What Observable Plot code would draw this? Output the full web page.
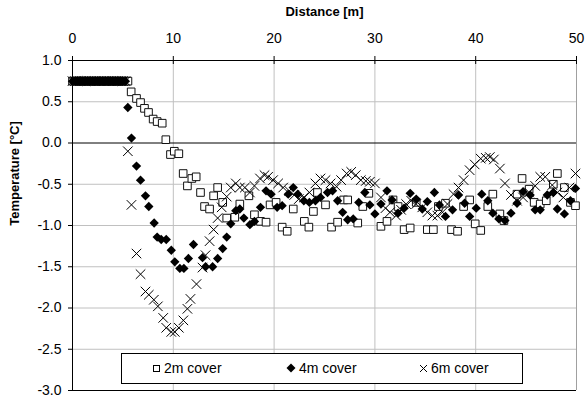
<!DOCTYPE html>
<html>
<head>
<meta charset="utf-8">
<script src="https://cdn.jsdelivr.net/npm/d3@7"></script>
<script src="https://cdn.jsdelivr.net/npm/@observablehq/plot@0.6"></script>
<style>
  html, body { margin: 0; padding: 0; background: #fff; }
  #wrap { position: relative; width: 586px; height: 397px; font-family: "Liberation Sans", Arial, sans-serif; }
  #legend { position: absolute; left: 121px; top: 353px; width: 400px; height: 29px; border: 1px solid #000; background: #fff; font-size: 14px; color: #000; }
  .li { position: absolute; top: 6px; display: flex; align-items: center; white-space: nowrap; }
  .li svg { margin-right: 3px; }
</style>
</head>
<body>
<div id="wrap"></div>
<script>
// ---- data ----
const xTicks = [0, 10, 20, 30, 40, 50];
const yTicks = [-3.0, -2.5, -2.0, -1.5, -1.0, -0.5, 0.0, 0.5, 1.0];
const seriesNames = ["2m cover", "4m cover", "6m cover"];

const dist2m = [0,0.25,0.5,0.75,1,1.25,1.5,1.75,2,2.25,2.5,2.75,3,3.25,3.5,3.75,4,4.25,4.5,4.75,5,5.25,5.5,
  5.82,6.35,6.75,7.14,7.54,8.0,8.4,8.9,9.26,9.72,10.1,10.55,10.98,11.4,11.84,12.27,12.7,13.1,13.6,14.0,14.4,14.9,15.3,16.1,16.6,17.5,18.05,18.65,19.2,19.6,20.2,20.8,21.3,21.9,23.0,23.45,23.9,24.3,25.1,25.7,26.3,26.9,27.3,28.3,28.8,29.4,30.6,31.2,31.8,32.3,32.9,33.5,34.1,35.2,35.8,36.3,37.0,37.6,38.2,38.8,39.4,39.95,40.5,41.2,41.7,42.4,42.8,44.1,44.6,45.3,45.8,46.4,47.0,47.7,48.1,48.8,49.4,49.9];
const temp2m = [0.75,0.75,0.75,0.75,0.75,0.75,0.75,0.75,0.75,0.75,0.75,0.75,0.75,0.75,0.75,0.75,0.75,0.75,0.75,0.75,0.75,0.75,0.75,
  0.62,0.54,0.49,0.42,0.37,0.29,0.26,0.24,0.04,-0.14,-0.10,-0.13,-0.37,-0.52,-0.43,-0.41,-0.60,-0.77,-0.80,-0.64,-0.54,-0.72,-0.91,-0.90,-0.74,-0.64,-0.87,-0.95,-0.96,-0.75,-0.72,-1.02,-1.07,-0.80,-0.95,-1.02,-0.83,-0.60,-0.75,-1.02,-0.96,-0.69,-0.69,-0.97,-0.77,-0.61,-1.01,-0.95,-0.69,-0.77,-1.05,-1.03,-0.72,-1.05,-1.05,-0.77,-0.73,-1.05,-1.07,-0.77,-0.69,-0.98,-1.06,-0.77,-0.62,-0.86,-0.94,-0.62,-0.43,-0.56,-0.72,-0.74,-0.70,-0.50,-0.37,-0.54,-0.72,-0.76];

const dist4m = [0,0.25,0.5,0.75,1,1.25,1.5,1.75,2,2.25,2.5,2.75,3,3.25,3.5,3.75,4,4.25,4.5,4.75,5,5.25,
  5.49,5.85,6.35,6.75,7.24,7.57,8.1,8.4,8.8,9.3,9.8,10.15,10.65,11.05,11.5,12.0,12.9,13.2,13.9,14.4,14.9,15.3,15.7,16.2,16.6,17.0,17.6,18.05,18.65,19.2,19.7,20.3,20.8,21.4,21.9,22.35,22.95,23.5,24.1,24.6,25.3,25.8,26.3,26.8,27.3,27.85,28.4,29.0,29.5,30.0,30.6,31.2,31.7,32.3,32.9,33.5,34.1,34.7,35.2,35.9,36.4,37.0,37.7,38.3,38.9,39.4,40.05,40.6,41.2,41.7,42.3,42.9,43.5,44.1,44.7,45.4,45.9,46.4,47.1,47.7,48.1,48.8,49.4,49.9];
const temp4m = [0.75,0.75,0.75,0.75,0.75,0.75,0.75,0.75,0.75,0.75,0.75,0.75,0.75,0.75,0.75,0.75,0.75,0.75,0.75,0.75,0.75,0.75,
  0.43,0.06,-0.28,-0.45,-0.64,-0.77,-0.97,-1.14,-1.17,-1.17,-1.30,-1.44,-1.52,-1.52,-1.40,-1.23,-1.39,-1.50,-1.50,-1.40,-1.28,-1.14,-0.98,-0.82,-0.80,-0.91,-0.99,-0.95,-0.78,-0.58,-0.62,-0.78,-0.76,-0.62,-0.54,-0.62,-0.70,-0.72,-0.70,-0.66,-0.60,-0.58,-0.70,-0.84,-0.93,-0.92,-0.72,-0.60,-0.75,-0.86,-0.74,-0.58,-0.69,-0.85,-0.79,-0.61,-0.68,-0.80,-0.71,-0.60,-0.75,-0.89,-0.81,-0.63,-0.73,-0.89,-0.79,-0.62,-0.70,-0.85,-0.92,-0.94,-0.85,-0.73,-0.59,-0.63,-0.81,-0.81,-0.63,-0.60,-0.80,-0.86,-0.70,-0.55];

const dist6m = [0,0.25,0.5,0.75,1,1.25,1.5,1.75,2,2.25,2.5,2.75,3,3.25,3.5,3.75,4,4.25,4.5,4.75,5,5.25,
  5.49,5.85,6.35,6.75,7.24,7.57,8.07,8.47,9.0,9.3,9.8,10.15,10.55,11.0,11.4,11.7,12.3,12.9,13.2,13.6,14.0,14.4,14.8,15.3,15.7,16.2,16.6,17.1,17.6,18.05,18.6,19.05,19.4,19.9,20.4,20.9,21.5,22.0,22.45,22.95,23.5,24.1,24.6,25.1,25.6,26.2,26.65,27.2,27.65,28.1,28.6,29.1,29.5,30.0,30.6,31.05,31.5,32.1,32.6,33.1,33.6,34.1,34.7,35.2,35.7,36.2,36.7,37.2,37.8,38.3,38.8,39.4,39.9,40.5,41.0,41.4,41.8,42.4,42.9,43.5,44.1,44.7,45.3,45.9,46.4,46.9,47.6,48.1,48.7,49.3,49.9];
const temp6m = [0.75,0.75,0.75,0.75,0.75,0.75,0.75,0.75,0.75,0.75,0.75,0.75,0.75,0.75,0.75,0.75,0.75,0.75,0.75,0.75,0.75,0.75,
  -0.10,-0.75,-1.34,-1.59,-1.80,-1.84,-1.90,-1.98,-2.12,-2.24,-2.29,-2.29,-2.24,-2.15,-2.01,-1.89,-1.71,-1.51,-1.36,-1.19,-1.05,-0.91,-0.78,-0.65,-0.54,-0.49,-0.54,-0.54,-0.60,-0.52,-0.43,-0.39,-0.41,-0.45,-0.49,-0.54,-0.58,-0.63,-0.68,-0.66,-0.60,-0.49,-0.43,-0.45,-0.49,-0.53,-0.45,-0.37,-0.35,-0.39,-0.45,-0.46,-0.47,-0.49,-0.66,-0.79,-0.84,-0.88,-0.81,-0.74,-0.70,-0.74,-0.78,-0.84,-0.88,-0.88,-0.84,-0.74,-0.62,-0.54,-0.45,-0.33,-0.26,-0.19,-0.18,-0.17,-0.20,-0.31,-0.49,-0.63,-0.70,-0.66,-0.60,-0.52,-0.41,-0.41,-0.51,-0.60,-0.66,-0.54,-0.37];

const toRows = (xs, ys) => xs.map((x, i) => ({x, y: ys[i]}));
const s2 = toRows(dist2m, temp2m);
const s4 = toRows(dist4m, temp4m);
const s6 = toRows(dist6m, temp6m);

const grid = "#c0c0c0";

const chart = Plot.plot({
  width: 586,
  height: 397,
  marginLeft: 72,
  marginRight: 10,
  marginTop: 60,
  marginBottom: 7,
  style: { fontFamily: '"Liberation Sans", Arial, sans-serif', fontSize: "14px", background: "#fff", color: "#000", overflow: "visible" },
  x: { domain: [0, 50] },
  y: { domain: [-3, 1] },
  marks: [
    Plot.gridX(xTicks.filter(d => d > 0 && d < 50), { stroke: grid, strokeOpacity: 1 }),
    Plot.gridY(yTicks.filter(d => d !== 0 && d > -3 && d < 1), { stroke: grid, strokeOpacity: 1 }),
    Plot.ruleX([50], { stroke: "#a0a0a0" }),
    Plot.ruleY([-3], { stroke: "#000" }),
    Plot.ruleY([0], { stroke: "#000" }),
    Plot.ruleY([1], { stroke: "#000" }),
    Plot.ruleX([0], { stroke: "#000" }),
    Plot.ruleX(xTicks, { x: d => d, y1: 1, y2: 1, insetTop: -4, insetBottom: -4, stroke: "#000" }),
    Plot.axisX({ anchor: "top", ticks: xTicks, tickSize: 0, tickPadding: 18, tickFormat: d => String(d), label: null, fontSize: 14 }),
    Plot.axisY({ anchor: "left", ticks: yTicks, tickSize: 4, tickPadding: 7, tickFormat: d => d.toFixed(1), label: null, fontSize: 14 }),
    Plot.text(["Distance [m]"], { frameAnchor: "top", dy: -54, fontWeight: "bold", fontSize: 13 }),
    Plot.text(["Temperature [°C]"], { frameAnchor: "left", textAnchor: "middle", dx: -58, dy: -52, rotate: -90, fontWeight: "bold", fontSize: 13 }),
    Plot.dot(s2, { x: "x", y: "y", symbol: "square", r: 4.3, fill: "#fff", stroke: "#111", strokeWidth: 1 }),
    Plot.dot(s4, { x: "x", y: "y", symbol: "diamond2", r: 4.2, fill: "#000", stroke: "none" }),
    Plot.dot(s6, { x: "x", y: "y", symbol: "times", r: 4.4, stroke: "#000", strokeWidth: 1 })
  ]
});

const wrap = document.getElementById("wrap");
wrap.appendChild(chart);

const legend = document.createElement("div");
legend.id = "legend";
const icons = [
  '<svg width="9" height="9"><rect x="1.5" y="1.5" width="6" height="6" fill="#fff" stroke="#000"/></svg>',
  '<svg width="10" height="10"><path d="M5,0.5L9.5,5L5,9.5L0.5,5Z" fill="#000"/></svg>',
  '<svg width="9" height="9"><path d="M1,1L8,8M8,1L1,8" stroke="#000" fill="none"/></svg>'
];
const lefts = [30, 164, 297];
seriesNames.forEach((name, i) => {
  const item = document.createElement("div");
  item.className = "li";
  item.style.left = lefts[i] + "px";
  item.innerHTML = icons[i] + "<span>" + name + "</span>";
  legend.appendChild(item);
});
wrap.appendChild(legend);
</script>
</body>
</html>
